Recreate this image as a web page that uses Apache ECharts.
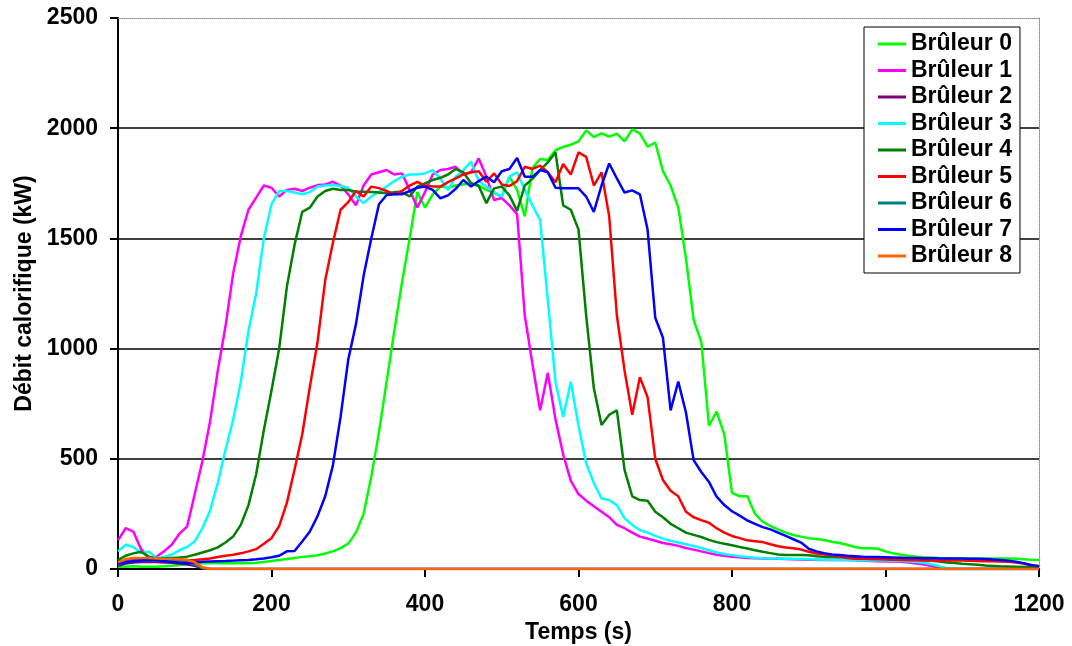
<!DOCTYPE html>
<html>
<head>
<meta charset="utf-8">
<script src="https://cdn.jsdelivr.net/npm/echarts@6/dist/echarts.min.js"></script>
<style>
  html, body { margin: 0; padding: 0; background: #fff; }
  #chart { width: 1072px; height: 646px; }
</style>
</head>
<body>
<div id="chart"></div>
<script>
// temps en secondes, un point toutes les 10 s
const temps = [
  0, 10, 20, 30, 40, 50, 60, 70, 80, 90,
  100, 110, 120, 130, 140, 150, 160, 170, 180, 190,
  200, 210, 220, 230, 240, 250, 260, 270, 280, 290,
  300, 310, 320, 330, 340, 350, 360, 370, 380, 390,
  400, 410, 420, 430, 440, 450, 460, 470, 480, 490,
  500, 510, 520, 530, 540, 550, 560, 570, 580, 590,
  600, 610, 620, 630, 640, 650, 660, 670, 680, 690,
  700, 710, 720, 730, 740, 750, 760, 770, 780, 790,
  800, 810, 820, 830, 840, 850, 860, 870, 880, 890,
  900, 910, 920, 930, 940, 950, 960, 970, 980, 990,
  1000, 1010, 1020, 1030, 1040, 1050, 1060, 1070, 1080, 1090,
  1100, 1110, 1120, 1130, 1140, 1150, 1160, 1170, 1180, 1190,
  1200
];

// brûleurs 2, 6 et 8 : seulement un petit débit au départ
const tempsDebut = [0, 10, 20, 30, 40, 50, 60, 70, 80, 90, 100, 110, 120, 1200];

const bruleur0 = [
  10, 10, 12, 10, 10, 10, 12, 15, 18, 20,
  25, 26, 26, 26, 26, 26, 26, 26, 28, 32,
  36, 41, 45, 50, 55, 58, 62, 70, 80, 95,
  115, 165, 250, 420, 620, 850, 1080, 1300, 1500, 1710,
  1640, 1700, 1735, 1730, 1740, 1745, 1750, 1740, 1720, 1705,
  1690, 1780, 1720, 1600, 1820, 1860, 1856, 1900, 1915, 1925,
  1940, 1990, 1960, 1977, 1962, 1975, 1940, 1995, 1977, 1916,
  1935, 1805, 1740, 1640, 1410, 1130, 1030, 650, 714, 610,
  345, 330, 330, 250, 215, 195, 180, 165, 154, 147,
  140, 136, 132, 124, 118, 110, 100, 94, 94, 92,
  80, 71, 65, 60, 56, 53, 52, 50, 49, 48,
  48, 48, 48, 48, 48, 48, 48, 46, 44, 42,
  41
];

const bruleur1 = [
  130, 185, 170, 90, 50, 56, 80, 110, 160, 192,
  340, 490, 670, 900, 1100, 1340, 1510, 1630, 1685, 1740,
  1730, 1690, 1720, 1725, 1715, 1730, 1742, 1745, 1757, 1740,
  1700, 1650, 1740, 1790, 1800, 1810, 1790, 1795, 1720, 1640,
  1710, 1790, 1810, 1815, 1825, 1790, 1800, 1863, 1780, 1674,
  1683, 1650, 1610, 1150, 930, 720, 890, 680, 520, 400,
  340, 310, 285, 260, 235, 200, 185, 165, 147, 138,
  128, 118, 112, 105, 95, 88, 80, 72, 65, 60,
  56, 53, 50, 49, 48, 47, 46, 45, 44, 43,
  42, 42, 41, 41, 41, 41, 40, 38, 36, 35,
  34, 34, 33, 30, 25, 20, 14, 5, 0, 0,
  0, 0, 0, 0, 0, 0, 0, 0, 0, 0,
  0
];

const bruleur2 = [15, 25, 30, 32, 33, 32, 30, 28, 25, 22, 15, 3, 0, 0];

const bruleur3 = [
  80, 110, 100, 72, 80, 50, 55, 65, 85, 100,
  125, 185, 265, 390, 540, 676, 850, 1080, 1250, 1500,
  1655, 1715, 1715, 1708, 1700, 1710, 1735, 1740, 1742, 1738,
  1730, 1690, 1660, 1690, 1710, 1735, 1760, 1780, 1790, 1790,
  1795, 1810, 1770, 1720, 1780, 1810, 1848, 1760, 1735, 1710,
  1690, 1780, 1800, 1720, 1650, 1583, 1220, 850, 690, 850,
  650, 480, 390, 320, 313, 290, 230, 200, 177, 165,
  150, 138, 128, 120, 112, 104, 95, 85, 75, 68,
  63, 58, 54, 51, 49, 48, 48, 47, 46, 45,
  44, 43, 42, 42, 41, 41, 40, 40, 39, 38,
  38, 37, 36, 34, 32, 28, 22, 12, 5, 2,
  0, 0, 0, 0, 0, 0, 0, 0, 0, 0,
  0
];

const bruleur4 = [
  40, 60, 71, 78, 56, 48, 48, 50, 52, 56,
  65, 75, 85, 98, 120, 147, 200, 290, 430, 630,
  810, 1000, 1280, 1470, 1620, 1640, 1690, 1715, 1725, 1720,
  1720, 1712, 1712, 1710, 1708, 1705, 1710, 1710, 1690, 1735,
  1750, 1765, 1775, 1790, 1815, 1800, 1750, 1738, 1660, 1727,
  1735, 1695, 1625, 1740, 1770, 1810, 1845, 1890, 1650, 1630,
  1540, 1150, 820, 653, 700, 720, 450, 330, 313, 310,
  260, 235, 205, 185, 165, 155, 145, 132, 122, 115,
  108, 100, 93, 85, 78, 72, 66, 64, 63, 63,
  62, 58, 55, 54, 53, 52, 51, 50, 50, 49,
  49, 48, 47, 45, 42, 40, 37, 34, 30, 27,
  24, 22, 19, 16, 14, 12, 11, 10, 9, 9,
  8
];

const bruleur5 = [
  30, 40, 45, 45, 42, 40, 40, 40, 40, 40,
  41, 44, 48, 54, 60, 65, 71, 80, 90, 115,
  140, 195, 300, 450, 610, 827, 1030, 1311, 1480, 1630,
  1665, 1715, 1690, 1735, 1728, 1715, 1700, 1715, 1740, 1757,
  1740, 1735, 1735, 1755, 1772, 1790, 1800, 1805, 1757, 1795,
  1745, 1738, 1760, 1825, 1815, 1830, 1800, 1755, 1838, 1790,
  1890, 1870, 1740, 1800, 1600, 1150, 900, 700, 870, 780,
  500, 404, 355, 330, 260, 235, 222, 210, 185, 165,
  150, 140, 130, 126, 122, 112, 103, 98, 94, 88,
  78, 70, 66, 62, 58, 50, 47, 46, 45, 44,
  43, 42, 41, 40, 40, 39, 39, 38, 38, 38,
  38, 37, 36, 35, 35, 34, 33, 30, 25, 16,
  12
];

const bruleur6 = [20, 32, 38, 40, 40, 38, 36, 35, 33, 30, 20, 5, 0, 0];

const bruleur7 = [
  25, 30, 35, 40, 42, 40, 36, 32, 28, 26,
  30, 33, 34, 35, 36, 38, 40, 41, 44, 48,
  53, 60, 80, 82, 125, 170, 240, 330, 470, 690,
  950, 1110, 1330, 1500, 1655, 1697, 1700, 1700, 1715, 1730,
  1735, 1720, 1682, 1695, 1725, 1765, 1735, 1760, 1780, 1755,
  1805, 1815, 1865, 1780, 1780, 1810, 1800, 1730, 1727, 1727,
  1727, 1690, 1620, 1740, 1840, 1772, 1708, 1718, 1700, 1540,
  1140, 1050, 720, 850, 710, 494, 440, 395, 328, 290,
  262, 242, 220, 205, 190, 180, 165, 150, 135, 120,
  92, 80, 72, 66, 64, 60, 58, 56, 55, 54,
  53, 52, 51, 50, 50, 49, 49, 48, 48, 48,
  48, 47, 46, 45, 43, 41, 38, 33, 26, 18,
  12
];

const bruleur8 = [30, 45, 50, 50, 50, 48, 46, 45, 44, 42, 30, 8, 0, 0];

const noms = ['Brûleur 0', 'Brûleur 1', 'Brûleur 2', 'Brûleur 3', 'Brûleur 4',
              'Brûleur 5', 'Brûleur 6', 'Brûleur 7', 'Brûleur 8'];
const couleurs = ['#00ff00', '#ff00ff', '#800080', '#00ffff', '#008000',
                  '#ff0000', '#008080', '#0000ff', '#ff6600'];
const valeurs = [bruleur0, bruleur1, bruleur2, bruleur3, bruleur4,
                 bruleur5, bruleur6, bruleur7, bruleur8];
const abscisses = [temps, temps, tempsDebut, temps, temps,
                   temps, tempsDebut, temps, tempsDebut];

const police = "'Liberation Sans', Arial, sans-serif";
const texte = { color: '#000', fontWeight: 'bold', fontFamily: police, fontSize: 23 };

// pas de séparateur de milliers
function sansVirgule(v) { return String(v); }

let option = {
    animation: false,
    backgroundColor: '#fff',
    grid: {
        left: 118, right: 33, top: 18, bottom: 77,
        containLabel: false,
        outerBoundsMode: 'none'
    },
    legend: {
        orient: 'vertical',
        left: 864,
        top: 27,
        padding: [5.5, 8, 5.5, 14],
        itemGap: 3.5,
        itemWidth: 28,
        itemHeight: 3,
        itemTextGap: 7,
        backgroundColor: '#fff',
        borderColor: '#000',
        borderWidth: 1,
        borderRadius: 0,
        textStyle: Object.assign({}, texte, { lineHeight: 22 }),
        data: noms.map(function (n) { return { name: n, icon: 'rect' }; })
    },
    xAxis: [
        {
            type: 'value',
            min: 0, max: 1200, interval: 200,
            name: 'Temps (s)',
            nameLocation: 'middle',
            nameGap: 47,
            nameTextStyle: texte,
            axisLine: { show: true, onZero: false, lineStyle: { color: '#000', width: 2 } },
            axisTick: { show: true, inside: false, length: 8, lineStyle: { color: '#000', width: 2 } },
            axisLabel: Object.assign({ margin: 24, formatter: sansVirgule }, texte),
            splitLine: { show: false }
        },
        {
            type: 'value',
            position: 'top',
            min: 0, max: 1200,
            axisLine: { show: true, onZero: false, lineStyle: { color: '#888', width: 1, type: 'dotted' } },
            axisTick: { show: false },
            axisLabel: { show: false },
            splitLine: { show: false }
        }
    ],
    yAxis: [
        {
            type: 'value',
            min: 0, max: 2500, interval: 500,
            name: 'Débit calorifique (kW)',
            nameLocation: 'middle',
            nameRotate: 90,
            nameGap: 79,
            nameTextStyle: texte,
            axisLine: { show: true, onZero: false, lineStyle: { color: '#000', width: 2 } },
            axisTick: { show: true, inside: false, length: 8, lineStyle: { color: '#000', width: 2 } },
            axisLabel: Object.assign({ margin: 20, formatter: sansVirgule }, texte),
            splitLine: { show: true, showMaxLine: false, lineStyle: { color: '#000', width: 1.5 } }
        },
        {
            type: 'value',
            position: 'right',
            min: 0, max: 2500,
            axisLine: { show: true, onZero: false, lineStyle: { color: '#888', width: 1, type: 'dotted' } },
            axisTick: { show: false },
            axisLabel: { show: false },
            splitLine: { show: false }
        }
    ],
    series: noms.map(function (nom, i) {
        return {
            name: nom,
            type: 'line',
            xAxisIndex: 0,
            yAxisIndex: 0,
            showSymbol: false,
            symbol: 'none',
            color: couleurs[i],
            lineStyle: { width: 2.5, color: couleurs[i] },
            data: abscisses[i].map(function (t, k) { return [t, valeurs[i][k]]; })
        };
    })
};

echarts.init(document.getElementById('chart')).setOption(option);
</script>
</body>
</html>
